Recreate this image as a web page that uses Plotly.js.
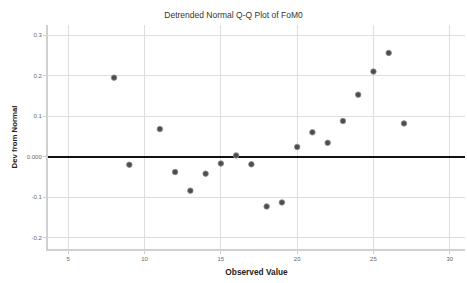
<!DOCTYPE html>
<html>
<head>
<meta charset="utf-8">
<script src="https://cdn.plot.ly/plotly-3.0.1.min.js"></script>
<style>html,body{margin:0;padding:0;background:#fff;}#chart{width:467px;height:283px;}</style>
</head>
<body>
<div id="chart"></div>
<script>
const observed = [8, 9, 11, 12, 13, 14, 15, 16, 17, 18, 19, 20, 21, 22, 23, 24, 25, 26, 27];
const deviation = [0.195, -0.020, 0.068, -0.038, -0.084, -0.042, -0.017, 0.003, -0.019, -0.123, -0.113, 0.024, 0.060, 0.034, 0.088, 0.153, 0.210, 0.256, 0.082];
const xTicks = [5, 10, 15, 20, 25, 30];
const yTicks = [-0.2, -0.1, 0, 0.1, 0.2, 0.3];
const yTickLabels = ["-0.2", "-0.1", "0.000", "0.1", "0.2", "0.3"];

const trace = {
  x: observed, y: deviation, type: 'scatter', mode: 'markers',
  marker: {size: 5.5, color: '#4d4d4d', line: {color: '#8a8a8a', width: 0.8}},
  hoverinfo: 'skip'
};
const layout = {
  width: 467, height: 283,
  margin: {l: 48, r: 2, t: 25, b: 34},
  paper_bgcolor: '#fff', plot_bgcolor: '#fff',
  font: {family: 'Liberation Sans, Arial, sans-serif', color: '#333'},
  title: {text: 'Detrended Normal Q-Q Plot of FoM0', font: {size: 8.5, color: '#333'}, x: 0.5, xanchor: 'center', y: 0.947, yanchor: 'middle'},
  showlegend: false,
  xaxis: {
    range: [3.67, 31], tickvals: xTicks, ticktext: xTicks.map(String),
    showgrid: true, gridcolor: '#dedede', gridwidth: 1,
    zeroline: false, showline: true, linecolor: '#d0d0d0', linewidth: 2,
    ticks: 'outside', ticklen: 3, tickcolor: '#d0d0d0',
    tickfont: {size: 6, color: '#666'},
    title: {text: 'Observed Value', font: {size: 8.3, color: '#222', weight: 'bold'}, standoff: 8}
  },
  yaxis: {
    range: [-0.228, 0.325], tickvals: yTicks, ticktext: yTickLabels,
    showgrid: true, gridcolor: '#dedede', gridwidth: 1,
    zeroline: true, zerolinecolor: '#111', zerolinewidth: 2,
    showline: true, linecolor: '#d0d0d0', linewidth: 2,
    ticks: 'outside', ticklen: 3, tickcolor: '#d0d0d0',
    tickfont: {size: 6, color: '#666'},
    title: {text: 'Dev from Normal', font: {size: 7.8, color: '#222', weight: 'bold'}, standoff: 8}
  }
};
Plotly.newPlot('chart', [trace], layout, {staticPlot: true, displayModeBar: false});
</script>
</body>
</html>
